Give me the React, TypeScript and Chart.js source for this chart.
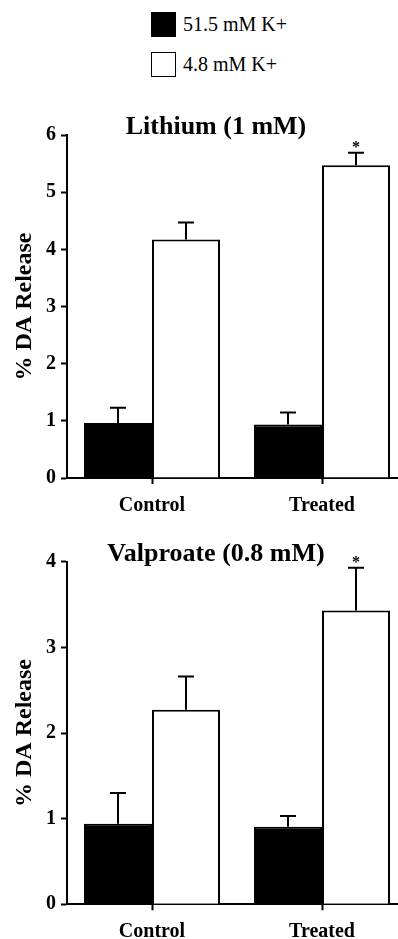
import React, { useEffect, useRef } from "react";
import { Chart, registerables } from "chart.js";

Chart.register(...registerables);

const FONT = "'Liberation Serif', 'Times New Roman', Times, serif";

// ---- data ----
const categories = ["Control", "Treated"];
const seriesLabels = ["51.5 mM K+", "4.8 mM K+"];
const seriesFill = ["#000000", "#ffffff"];

const lithiumHighK = [0.96, 0.935];
const lithiumHighKErr = [0.27, 0.21];
const lithiumLowK = [4.17, 5.47];
const lithiumLowKErr = [0.3, 0.22];
const lithiumLowKStar = [false, true];

const valproateHighK = [0.94, 0.905];
const valproateHighKErr = [0.36, 0.125];
const valproateLowK = [2.27, 3.43];
const valproateLowKErr = [0.39, 0.5];
const valproateLowKStar = [false, true];

const lithiumTitle = "Lithium (1 mM)";
const valproateTitle = "Valproate (0.8 mM)";
const yAxisTitle = "% DA Release";
const lithiumMax = 6;
const valproateMax = 4;

const errorBarPlugin = {
  id: "errorBarsAndTitle",
  afterDatasetsDraw(chart: any) {
    const ctx = chart.ctx;
    const yScale = chart.scales.y;
    chart.data.datasets.forEach((ds: any, i: number) => {
      const meta = chart.getDatasetMeta(i);
      meta.data.forEach((bar: any, j: number) => {
        const v = ds.data[j];
        const e = ds.errors ? ds.errors[j] : 0;
        const top = yScale.getPixelForValue(v + e);
        ctx.save();
        ctx.strokeStyle = "#000";
        ctx.lineWidth = 2;
        ctx.beginPath();
        ctx.moveTo(bar.x, bar.y);
        ctx.lineTo(bar.x, top);
        ctx.moveTo(bar.x - 8, top);
        ctx.lineTo(bar.x + 8, top);
        ctx.stroke();
        if (ds.stars && ds.stars[j]) {
          ctx.fillStyle = "#000";
          ctx.font = `bold 16px ${FONT}`;
          ctx.textAlign = "center";
          ctx.textBaseline = "alphabetic";
          ctx.fillText("*", bar.x, top - 1);
        }
        ctx.restore();
      });
    });
  },
  afterDraw(chart: any) {
    const opts = chart.options.plugins.panelTitle;
    if (!opts) return;
    const ctx = chart.ctx;
    const area = chart.chartArea;
    ctx.save();
    ctx.fillStyle = "#000";
    ctx.font = `bold 26px ${FONT}`;
    ctx.textAlign = "center";
    ctx.textBaseline = "alphabetic";
    ctx.fillText(opts.text, (area.left + area.right) / 2 + opts.shift, area.top - 1);
    ctx.restore();
  },
};

function makeConfig(
  high: number[],
  highErr: number[],
  low: number[],
  lowErr: number[],
  lowStar: boolean[],
  max: number,
  title: string,
  padTop: number,
  xHeight: number
): any {
  return {
    type: "bar",
    data: {
      labels: categories,
      datasets: [
        {
          label: seriesLabels[0],
          data: high,
          errors: highErr,
          backgroundColor: seriesFill[0],
          borderColor: "#000",
          borderWidth: 2,
          categoryPercentage: 0.8,
          barPercentage: 1.0,
        },
        {
          label: seriesLabels[1],
          data: low,
          errors: lowErr,
          stars: lowStar,
          backgroundColor: seriesFill[1],
          borderColor: "#000",
          borderWidth: 2,
          categoryPercentage: 0.8,
          barPercentage: 1.0,
        },
      ],
    },
    options: {
      responsive: false,
      maintainAspectRatio: false,
      animation: false,
      devicePixelRatio: 1,
      layout: { padding: { top: padTop, right: 3, left: 0, bottom: 0 } },
      plugins: {
        legend: { display: false },
        tooltip: { enabled: false },
        title: { display: false },
        panelTitle: { text: title, shift: -21 },
      },
      scales: {
        x: {
          ticks: {
            padding: 10,
            color: "#000",
            font: { family: FONT, size: 20, weight: "bold" },
          },
          grid: {
            offset: false,
            drawOnChartArea: false,
            drawTicks: true,
            tickLength: 6,
            tickWidth: 2,
            tickColor: "#000",
          },
          border: { display: true, color: "#000", width: 2 },
          afterFit: (s: any) => {
            s.height = xHeight;
          },
        },
        y: {
          min: 0,
          max: max,
          ticks: {
            stepSize: 1,
            padding: 5,
            color: "#000",
            font: { family: FONT, size: 20, weight: "bold" },
          },
          grid: {
            drawOnChartArea: false,
            drawTicks: true,
            tickLength: 6,
            tickWidth: 2,
            tickColor: "#000",
          },
          border: { display: true, color: "#000", width: 2 },
          title: {
            display: true,
            text: yAxisTitle,
            color: "#000",
            font: { family: FONT, size: 24, weight: "bold" },
            padding: { top: 10, bottom: 0 },
          },
          afterFit: (s: any) => {
            s.width = 67;
          },
        },
      },
    },
    plugins: [errorBarPlugin],
  };
}

function Panel(props: { config: any; top: number; height: number }) {
  const ref = useRef<HTMLCanvasElement | null>(null);
  useEffect(() => {
    if (!ref.current) return;
    const chart = new Chart(ref.current, props.config);
    return () => chart.destroy();
  }, []);
  return (
    <canvas
      ref={ref}
      width={410}
      height={props.height}
      style={{
        position: "absolute",
        left: 0,
        top: props.top,
        width: 410,
        height: props.height,
      }}
    />
  );
}

export default function App() {
  const topCfg = makeConfig(
    lithiumHighK,
    lithiumHighKErr,
    lithiumLowK,
    lithiumLowKErr,
    lithiumLowKStar,
    lithiumMax,
    lithiumTitle,
    55,
    38
  );
  const botCfg = makeConfig(
    valproateHighK,
    valproateHighKErr,
    valproateLowK,
    valproateLowKErr,
    valproateLowKStar,
    valproateMax,
    valproateTitle,
    45.7,
    34.7
  );
  return (
    <div
      style={{
        position: "absolute",
        left: 0,
        top: 0,
        width: 398,
        height: 939,
        overflow: "hidden",
        background: "#fff",
      }}
    >
      {seriesLabels.map((lab, i) => (
        <div
          key={lab}
          style={{
            position: "absolute",
            left: 151,
            top: i === 0 ? 12.3 : 51.5,
            height: 25,
            display: "flex",
            alignItems: "center",
            whiteSpace: "nowrap",
          }}
        >
          <div
            style={{
              width: 25,
              height: 25,
              boxSizing: "border-box",
              border: "1.5px solid #000",
              background: seriesFill[i],
            }}
          />
          <span
            style={{
              marginLeft: 7,
              fontFamily: FONT,
              fontSize: 20,
              color: "#000",
              lineHeight: "25px",
            }}
          >
            {lab}
          </span>
        </div>
      ))}
      <Panel config={topCfg} top={80} height={436} />
      <Panel config={botCfg} top={516} height={423} />
    </div>
  );
}
